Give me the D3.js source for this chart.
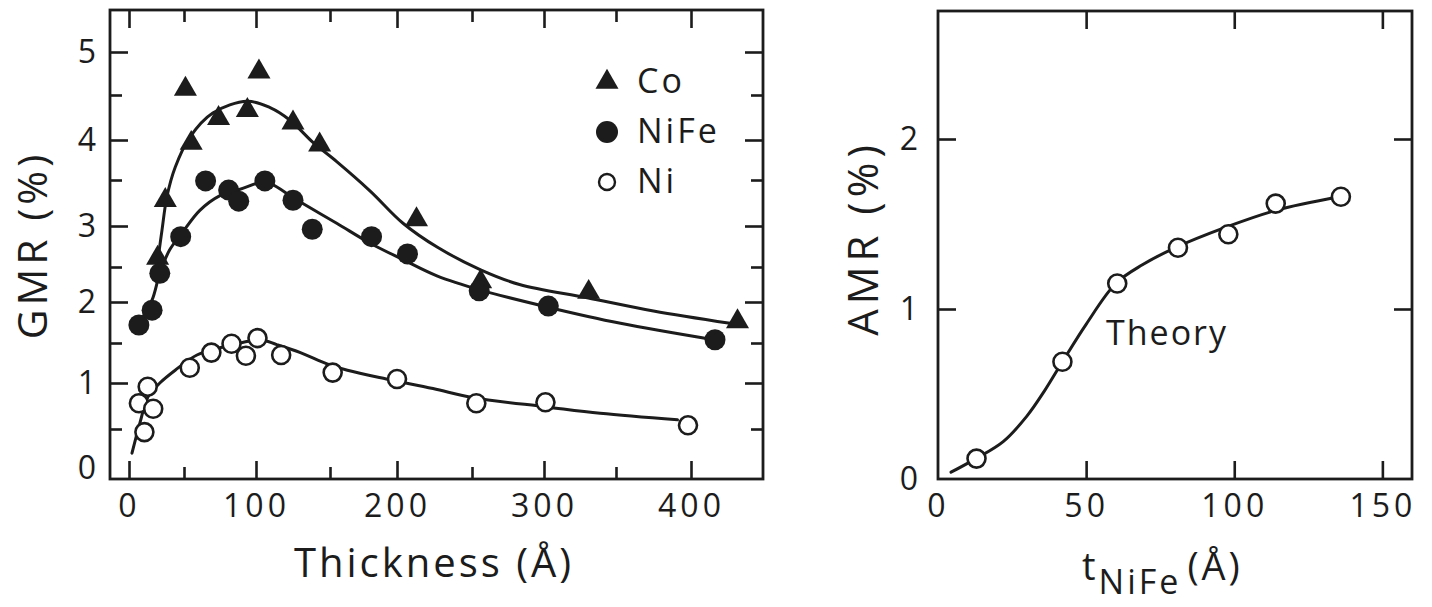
<!DOCTYPE html>
<html>
<head>
<meta charset="utf-8">
<script src="https://cdn.jsdelivr.net/npm/d3@7"></script>
<style>
  html, body { margin: 0; padding: 0; background: #fff; }
  svg { display: block; }
  text { font-family: "Open Sans", "Lato", sans-serif; fill: #1c1c1c; }
</style>
</head>
<body>
<svg id="chart" width="1432" height="607"></svg>
<script>
// ---- GMR vs. magnetic layer thickness (left panel) ----
const coThickness   = [26, 33, 55, 51, 74, 94, 102, 125, 143, 213, 256, 331, 431];
const coGMR         = [2.61, 3.28, 3.96, 4.57, 4.24, 4.33, 4.77, 4.19, 3.94, 3.07, 2.29, 2.14, 1.76];
const nifeThickness = [9, 21, 28, 47, 65, 81, 88, 106, 125, 138, 181, 207, 255, 303, 416];
const nifeGMR       = [1.72, 1.90, 2.41, 2.87, 3.49, 3.39, 3.27, 3.49, 3.28, 2.96, 2.87, 2.66, 2.16, 1.95, 1.54];
const niThickness   = [9, 17, 14, 22, 54, 69, 83, 93, 101, 117, 152, 200, 253, 301, 398];
const niGMR         = [0.78, 0.96, 0.46, 0.72, 1.19, 1.38, 1.49, 1.34, 1.56, 1.35, 1.13, 1.05, 0.78, 0.79, 0.54];

// fitted curves through each series
const coFitT   = [26, 30, 34.5, 42, 54, 70, 94, 109.5, 123, 138.5, 155, 180, 204, 227, 256, 283, 330, 375, 426];
const coFitGMR = [2.56, 2.95, 3.32, 3.66, 4.03, 4.30, 4.43, 4.36, 4.22, 3.97, 3.73, 3.38, 3.03, 2.74, 2.46, 2.25, 2.06, 1.89, 1.74];
const nifeFitT   = [10, 21, 28, 37, 48, 61, 75, 89, 105, 110, 128, 155, 180, 204, 227, 256, 302, 353, 415];
const nifeFitGMR = [1.76, 2.03, 2.41, 2.71, 2.91, 3.17, 3.33, 3.40, 3.48, 3.46, 3.28, 3.03, 2.79, 2.59, 2.37, 2.17, 1.94, 1.74, 1.54];
const niFitT   = [2.7, 10, 17.3, 28, 42, 59, 75, 89, 103, 114, 130, 148, 163, 192, 224, 251, 302, 339, 391];
const niFitGMR = [0.19, 0.57, 0.85, 1.00, 1.16, 1.35, 1.44, 1.50, 1.54, 1.48, 1.38, 1.24, 1.16, 1.05, 0.94, 0.84, 0.74, 0.67, 0.60];

// ---- AMR vs. NiFe thickness (right panel) ----
const amrThickness = [13, 42, 60.5, 81, 98, 114, 136];
const amrValues    = [0.12, 0.69, 1.15, 1.36, 1.44, 1.62, 1.66];
const theoryT      = [4.4, 12.8, 22, 30, 36, 42, 50, 60, 69, 80, 97, 114, 135.5];
const theoryAMR    = [0.04, 0.12, 0.22, 0.37, 0.52, 0.69, 0.91, 1.15, 1.26, 1.36, 1.48, 1.58, 1.66];

// tick values and labels
const gmrXMajor = [0, 100, 200, 300, 400];
const gmrXMinor = [50, 150, 250, 350];
const gmrYLabels = [0, 1, 2, 3, 4, 5];
const gmrYTicks  = [1, 2, 3, 4, 5];
const gmrYMinor  = [0.5, 1.5, 2.5, 3.5, 4.5];
const amrXLabels = [0, 50, 100, 150];
const amrXTicks  = [50, 100, 150];
const amrYLabels = [0, 1, 2];
const amrYTicks  = [1, 2];

const INK = "#1c1c1c";
const svg = d3.select("#chart");

// hand-ruled axes of the left panel are slightly uneven; follow the tick marks
const xL = d3.scaleLinear()
  .domain([0, 50, 100, 150, 200, 250, 300, 350, 400])
  .range([129, 184, 256, 330, 397, 472, 544, 616, 691]);
const yL = d3.scaleLinear()
  .domain([0, 0.5, 1, 1.5, 2, 2.5, 3, 3.5, 4, 4.5, 5])
  .range([468, 429, 383, 343, 302, 267, 226, 180, 140, 95, 52]);
const frameL = { x0: 110, x1: 763, y0: 10, y1: 479 };

const xR = d3.scaleLinear().domain([0, 160]).range([938, 1412]);
const yR = d3.scaleLinear().domain([0, 2]).range([479, 139]);
const frameR = { x0: 938, x1: 1412, y0: 11, y1: 479 };

const MAJOR = 18, MINOR = 12;
const tickFont = 32;

function styleAxis(g) {
  g.select(".domain").remove();
  g.selectAll("line").attr("stroke", INK).attr("stroke-width", 2.6);
  g.selectAll("text")
    .attr("font-size", tickFont)
    .attr("fill", INK)
    .style("letter-spacing", "4px");
}

function frame(f) {
  svg.append("rect")
    .attr("x", f.x0).attr("y", f.y0)
    .attr("width", f.x1 - f.x0).attr("height", f.y1 - f.y0)
    .attr("fill", "none").attr("stroke", INK).attr("stroke-width", 2.8);
}

function ticks(f, x, y, xMajor, xMinor, yMajor, yMinor) {
  const add = (axis, tx, ty) => svg.append("g")
    .attr("transform", `translate(${tx},${ty})`).call(axis).call(styleAxis);
  add(d3.axisBottom(x).tickValues(xMajor).tickSize(-MAJOR).tickFormat(""), 0, f.y1);
  add(d3.axisTop(x).tickValues(xMajor).tickSize(-MAJOR).tickFormat(""), 0, f.y0);
  add(d3.axisLeft(y).tickValues(yMajor).tickSize(-MAJOR).tickFormat(""), f.x0, 0);
  add(d3.axisRight(y).tickValues(yMajor).tickSize(-MAJOR).tickFormat(""), f.x1, 0);
  if (xMinor.length) {
    add(d3.axisBottom(x).tickValues(xMinor).tickSize(-MINOR).tickFormat(""), 0, f.y1);
    add(d3.axisTop(x).tickValues(xMinor).tickSize(-MINOR).tickFormat(""), 0, f.y0);
  }
  if (yMinor.length) {
    add(d3.axisLeft(y).tickValues(yMinor).tickSize(-MINOR).tickFormat(""), f.x0, 0);
    add(d3.axisRight(y).tickValues(yMinor).tickSize(-MINOR).tickFormat(""), f.x1, 0);
  }
}

function labels(f, x, y, xVals, yVals, yPad) {
  svg.append("g").attr("transform", `translate(0,${f.y1})`)
    .call(d3.axisBottom(x).tickValues(xVals).tickSize(0).tickPadding(15).tickFormat(d3.format("d")))
    .call(styleAxis);
  svg.append("g").attr("transform", `translate(${f.x0},0)`)
    .call(d3.axisLeft(y).tickValues(yVals).tickSize(0).tickPadding(yPad).tickFormat(d3.format("d")))
    .call(styleAxis);
}

function curve(x, y, ts, vs) {
  const pts = ts.map((t, i) => [x(t), y(vs[i])]);
  svg.append("path")
    .attr("d", d3.line().curve(d3.curveCatmullRom.alpha(0.5))(pts))
    .attr("fill", "none").attr("stroke", INK).attr("stroke-width", 3)
    .attr("stroke-linecap", "round");
}

const triangle = d3.symbol().type(d3.symbolTriangle).size(230);

function markers(kind, x, y, ts, vs) {
  const data = ts.map((t, i) => [t, vs[i]]);
  const g = svg.append("g");
  if (kind === "tri") {
    g.selectAll("path").data(data).join("path")
      .attr("d", triangle)
      .attr("transform", d => `translate(${x(d[0])},${y(d[1])})`)
      .attr("fill", INK);
  } else if (kind === "dot") {
    g.selectAll("circle").data(data).join("circle")
      .attr("cx", d => x(d[0])).attr("cy", d => y(d[1])).attr("r", 10.5)
      .attr("fill", INK);
  } else {
    g.selectAll("circle").data(data).join("circle")
      .attr("cx", d => x(d[0])).attr("cy", d => y(d[1])).attr("r", 9)
      .attr("fill", "#fff").attr("stroke", INK).attr("stroke-width", 2.6);
  }
}

// ---------- left panel ----------
frame(frameL);
ticks(frameL, xL, yL, gmrXMajor, gmrXMinor, gmrYTicks, gmrYMinor);
labels(frameL, xL, yL, gmrXMajor, gmrYLabels, 10);

curve(xL, yL, coFitT, coFitGMR);
curve(xL, yL, nifeFitT, nifeFitGMR);
curve(xL, yL, niFitT, niFitGMR);
markers("tri", xL, yL, coThickness, coGMR);
markers("dot", xL, yL, nifeThickness, nifeGMR);
markers("open", xL, yL, niThickness, niGMR);

// legend
const legend = [
  { kind: "tri", name: "Co" },
  { kind: "dot", name: "NiFe" },
  { kind: "open", name: "Ni" }
];
const lg = svg.append("g").attr("transform", "translate(607,82)");
legend.forEach((d, i) => {
  const row = lg.append("g").attr("transform", `translate(0,${i * 50})`);
  if (d.kind === "tri") row.append("path").attr("d", triangle).attr("fill", INK);
  else if (d.kind === "dot") row.append("circle").attr("r", 11).attr("fill", INK);
  else row.append("circle").attr("r", 8).attr("fill", "#fff").attr("stroke", INK).attr("stroke-width", 2.4);
  row.append("text").attr("x", 30).attr("y", 11)
    .attr("font-size", 34).style("letter-spacing", "3px").text(d.name);
});

// axis titles
svg.append("text")
  .attr("x", 434).attr("y", 577).attr("text-anchor", "middle")
  .attr("font-size", 40).style("letter-spacing", "3px")
  .text("Thickness (Å)");
svg.append("text")
  .attr("transform", "translate(47,245) rotate(-90)").attr("text-anchor", "middle")
  .attr("font-size", 41).style("letter-spacing", "4px")
  .text("GMR (%)");

// ---------- right panel ----------
frame(frameR);
ticks(frameR, xR, yR, amrXTicks, [], amrYTicks, []);
labels(frameR, xR, yR, amrXLabels, amrYLabels, 16);

curve(xR, yR, theoryT, theoryAMR);
markers("open", xR, yR, amrThickness, amrValues);

svg.append("text")
  .attr("x", 1106).attr("y", 345)
  .attr("font-size", 34).style("letter-spacing", "2px")
  .text("Theory");

svg.append("text")
  .attr("transform", "translate(878,238) rotate(-90)").attr("text-anchor", "middle")
  .attr("font-size", 42).style("letter-spacing", "5px")
  .text("AMR (%)");

const tTitle = svg.append("text").attr("x", 1082).attr("y", 580).attr("font-size", 38)
  .style("letter-spacing", "3px");
tTitle.append("tspan").text("t");
tTitle.append("tspan").attr("dy", 14).attr("font-size", 34).text("NiFe");
tTitle.append("tspan").attr("dy", -14).attr("dx", 6).text("(Å)");
</script>
</body>
</html>
